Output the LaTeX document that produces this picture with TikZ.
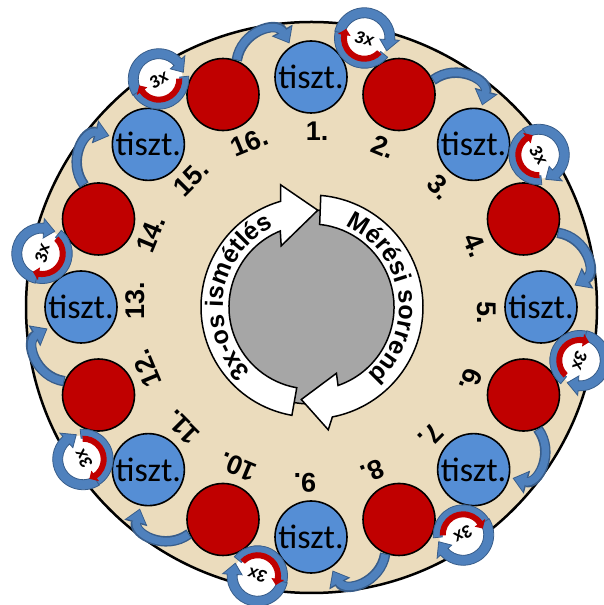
\documentclass[tikz,border=0pt]{standalone}
\usepackage{fontspec}
\setmainfont{Liberation Sans}
\newfontfamily\tisztfont{Carlito}
\usetikzlibrary{decorations.text, arrows.meta}

\definecolor{parchment}{RGB}{235,220,189}
\definecolor{padblue}{RGB}{85,142,213}
\definecolor{padred}{RGB}{192,0,0}
\definecolor{linkblue}{RGB}{79,129,189}
\definecolor{linkedge}{RGB}{56,93,138}
\definecolor{hubgray}{RGB}{166,166,166}

\tikzset{
  pad/.style={circle, draw=black, line width=1.6pt, minimum size=72pt, inner sep=0pt},
  cleanpad/.style={pad, fill=padblue, font=\tisztfont\fontsize{34}{34}\selectfont},
  samplepad/.style={pad, fill=padred},
  padnum/.style={font=\bfseries\fontsize{27}{27}\selectfont, inner sep=0pt},
  ringarrow/.style={fill=white, draw=black, line width=1.5pt, line join=miter},
  linkout/.style={linkedge, line width=10.5pt, -{Triangle[length=15pt, width=23pt]}},
  linkin/.style={linkblue, line width=7.5pt, -{Triangle[length=12pt, width=18.5pt]}},
  iconband/.style={fill=linkblue, draw=linkedge, line width=0.8pt},
  icontext/.style={font=\bfseries\itshape\fontsize{17}{17}\selectfont, inner sep=0pt}
}

\begin{document}
\begin{tikzpicture}[x=1pt, y=1pt]
\useasboundingbox (0,0) rectangle (603,605);
\coordinate (O) at (311,298);

% parchment disc
\node[circle, draw=black, line width=2.5pt, fill=parchment, minimum size=571pt, inner sep=0pt] (disc) at (311.5,297.5) {};

% grey hub
\node[circle, draw=black, line width=1.5pt, fill=hubgray, minimum size=194pt, inner sep=0pt] (hub) at (O) {};

% the two white circular arrows with their captions
\begin{scope}[shift={(O)}]
  \filldraw[ringarrow] (85:112) arc[start angle=85, end angle=-79, radius=112]
    -- (-82:124) -- (-96:93) -- (-69:71) -- (-71:83)
    arc[start angle=-71, end angle=84, radius=83] -- cycle;
  \filldraw[ringarrow] (260:110) arc[start angle=260, end angle=106, radius=110]
    -- (104:126) -- (86:97) -- (116:68) -- (112:82)
    arc[start angle=112, end angle=260, radius=82] -- cycle;
  \path[decorate, decoration={text along path, text align=center,
      text={|\bfseries\fontsize{25}{25}\selectfont|Mérési sorrend}}]
    (78.5:88) arc[start angle=78.5, end angle=-61.5, radius=88];
  \path[decorate, decoration={text along path, text align=center,
      text={|\bfseries\fontsize{25}{25}\selectfont|3x-os ismétlés}}]
    (241:88) arc[start angle=241, end angle=101, radius=88];
\end{scope}

% sixteen positions: odd = cleaning, even = measurement
\foreach \k in {1,...,16} {
  \pgfmathsetmacro\posang{90-(\k-1)*22.5}
  \ifodd\k\relax
    \node[cleanpad] (c\k) at ([shift={(\posang:230)}]O) {tiszt.};
  \else
    \node[samplepad] (c\k) at ([shift={(\posang:230)}]O) {};
  \fi
  \node[padnum, rotate=\posang-90] (n\k) at ([shift={(\posang-2:176)}]O) {\k.};
}

% single-step arrows: measurement -> next cleaning
\foreach \k in {2,4,...,16} {
  \pgfmathsetmacro\linkrot{90-(\k-1)*22.5-101.25}
  \pgfmathtruncatemacro\nxt{mod(\k,16)+1}
  \pgfmathtruncatemacro\ta{mod(57.5+\linkrot+720,360)}
  \pgfmathtruncatemacro\ha{mod(112+\linkrot+720,360)}
  \pgfmathsetmacro\oa{70+\linkrot}
  \pgfmathsetmacro\ia{108+\linkrot}
  \draw[linkout, shorten >=3pt] (c\k.\ta) to[out=\oa, in=\ia, looseness=1.35] (c\nxt.\ha);
  \draw[linkin, shorten >=4.5pt, shorten <=1pt] (c\k.\ta) to[out=\oa, in=\ia, looseness=1.35] (c\nxt.\ha);
}

% threefold repetition symbols: cleaning -> measurement
\foreach \k in {1,3,...,15} {
  \pgfmathsetmacro\iconang{78.75-(\k-1)*22.5}
  \pgfmathsetmacro\iconrot{\iconang-90}
  \begin{scope}[shift={(O)}, rotate=\iconrot, shift={(0,274)}]
    \fill[white] (0,0) circle[radius=24];
    \fill[iconband] (-28:30) arc[start angle=-28, end angle=-186, radius=30]
      -- (-186:21) arc[start angle=-186, end angle=-28, radius=21] -- cycle;
    \fill[iconband] (178:30.5) arc[start angle=178, end angle=8, radius=30.5]
      -- (8:35) -- (-18:25.5) -- (8:15.5) -- (8:20.5)
      arc[start angle=8, end angle=178, radius=20.5] -- cycle;
    \fill[padred] (-32:23.5) arc[start angle=-32, end angle=-178, radius=23.5]
      -- (-178:27) -- (-196:20.5) -- (-178:14) -- (-178:17.5)
      arc[start angle=-178, end angle=-32, radius=17.5] -- cycle;
    \node[icontext, rotate=\iconrot] (r\k) at (0,0) {3x};
  \end{scope}
}
\end{tikzpicture}
\end{document}
